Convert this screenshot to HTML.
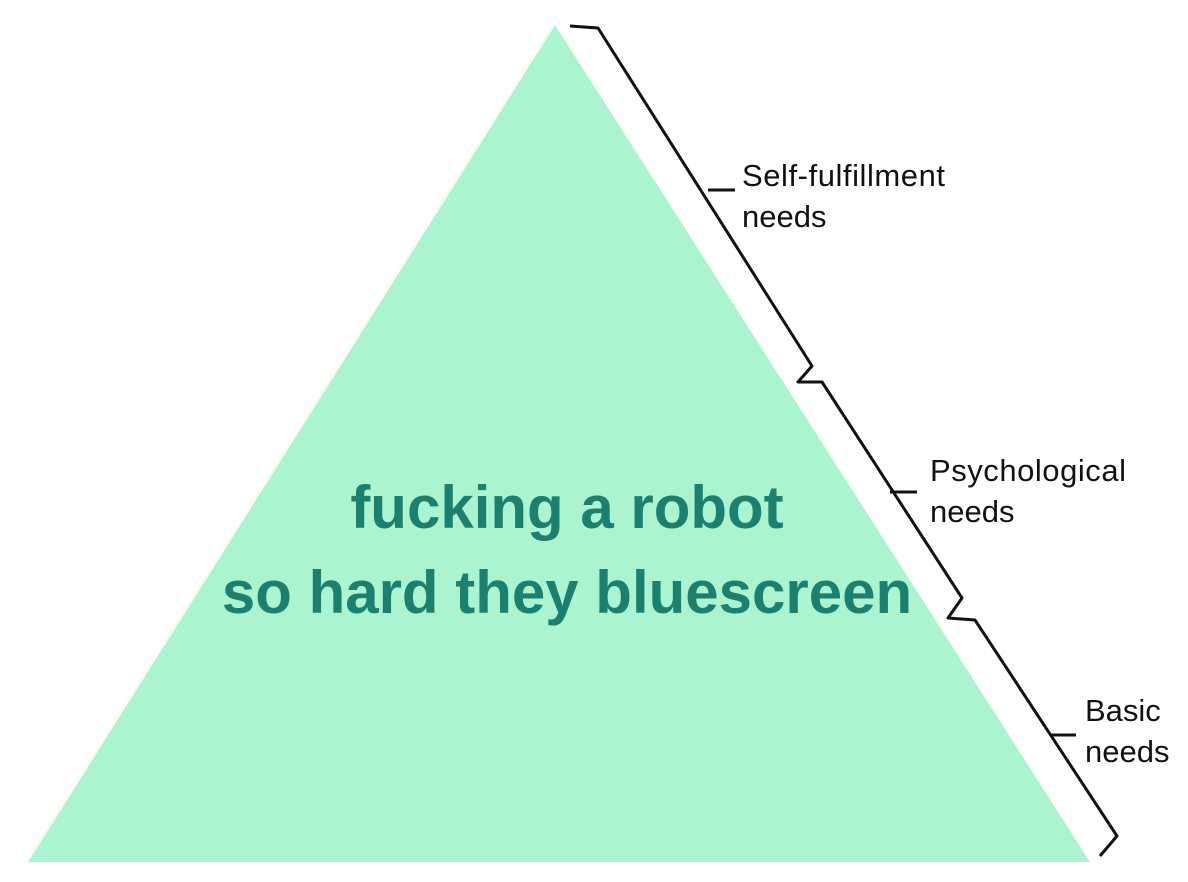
<!DOCTYPE html>
<html><head><style>
html,body{margin:0;padding:0;background:#fff;}
svg{display:block}
</style></head><body>
<svg width="1188" height="882" viewBox="0 0 1188 882" xmlns="http://www.w3.org/2000/svg">
<rect width="1188" height="882" fill="#fff"/>
<polygon points="555,25 28,862 1090,862" fill="#aaf5d0"/>
<g fill="none" stroke="#111" stroke-width="3" stroke-linejoin="round">
<polyline points="570,26 598,28 812,366 798,382 822,382 962,598 948,618 975,620 1117,836 1100,856"/>
<line x1="708" y1="190" x2="735" y2="190"/>
<line x1="890" y1="492" x2="917" y2="492"/>
<line x1="1050" y1="735" x2="1076" y2="735"/>
</g>
<g font-family="Liberation Sans, sans-serif" font-size="31" fill="#111">
<text x="742" y="186" textLength="203">Self-fulfillment</text>
<text x="742" y="227">needs</text>
<text x="930" y="481" textLength="196">Psychological</text>
<text x="930" y="522">needs</text>
<text x="1085" y="721">Basic</text>
<text x="1085" y="762">needs</text>
</g>
<g font-family="Liberation Sans, sans-serif" font-size="60" font-weight="bold" fill="#1b8070" text-anchor="middle">
<text x="567" y="528">fucking a robot</text>
<text x="567" y="613">so hard they bluescreen</text>
</g>
</svg>
</body></html>
